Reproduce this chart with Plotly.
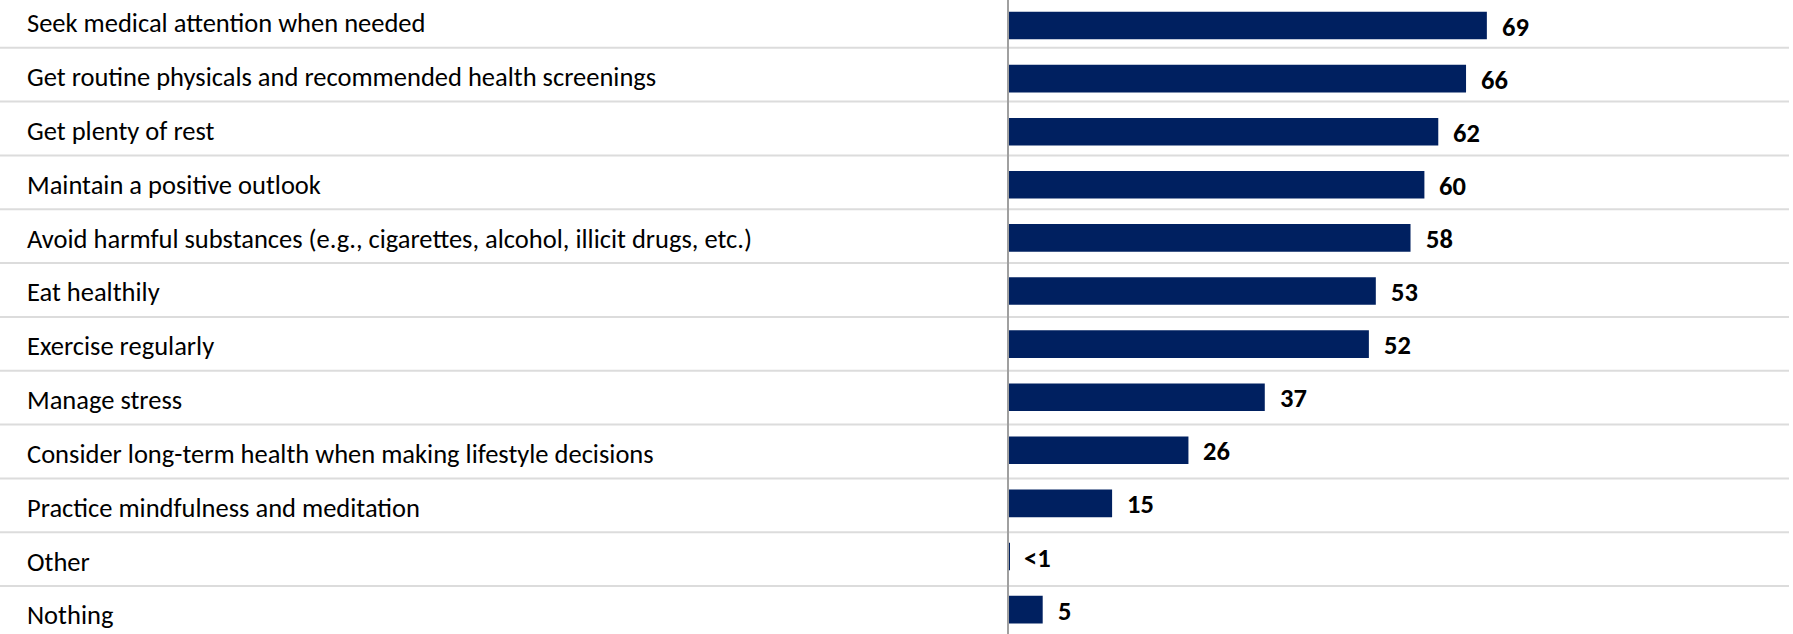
import plotly.graph_objects as go

# Survey responses, top to bottom
categories = [
    "Seek medical attention when needed",
    "Get routine physicals and recommended health screenings",
    "Get plenty of rest",
    "Maintain a positive outlook",
    "Avoid harmful substances (e.g., cigarettes, alcohol, illicit drugs, etc.)",
    "Eat healthily",
    "Exercise regularly",
    "Manage stress",
    "Consider long-term health when making lifestyle decisions",
    "Practice mindfulness and meditation",
    "Other",
    "Nothing",
]
values = [69, 66, 62, 60, 58, 53, 52, 37, 26, 15, 0.2, 5]
value_labels = ["69", "66", "62", "60", "58", "53", "52", "37", "26", "15", "<1", "5"]

W, H = 1793, 634
BAR_COLOR = "#002060"
LABEL_FONT = "Calibri, Carlito, 'Open Sans', sans-serif"
FONT_SIZE = 26.5

fig = go.Figure()
fig.add_trace(go.Bar(
    x=values,
    y=list(range(len(categories))),
    orientation="h",
    width=0.52,
    marker=dict(color=BAR_COLOR, line=dict(width=0)),
    hoverinfo="skip",
))

annotations = []
# category labels, left aligned in table rows
for i, name in enumerate(categories):
    annotations.append(dict(
        x=25 / W, xref="paper", xanchor="left",
        y=i, yref="y2", yanchor="middle",
        text=name, showarrow=False,
        font=dict(family=LABEL_FONT, size=FONT_SIZE, color="#000000"),
    ))
# value labels to the right of each bar
for i, (v, lab) in enumerate(zip(values, value_labels)):
    annotations.append(dict(
        x=v, xref="x", xanchor="left", xshift=13,
        y=i, yref="y", yanchor="middle", yshift=-1,
        text="<b>%s</b>" % lab.replace("<", "&lt;"), showarrow=False,
        font=dict(family=LABEL_FONT, size=FONT_SIZE, color="#000000"),
    ))

shapes = []
# row separators of the label table
row_rule_offset = 0.455
for k in range(len(categories) - 1):
    shapes.append(dict(
        type="line", xref="paper", yref="y2",
        x0=0, x1=1789 / W, y0=k + row_rule_offset, y1=k + row_rule_offset,
        line=dict(color="#dcdcdc", width=2), layer="below",
    ))
# vertical baseline at zero
shapes.append(dict(
    type="line", xref="x", yref="paper",
    x0=0, x1=0, y0=0, y1=1,
    line=dict(color="#a0a0a0", width=2), layer="above",
))

px_per_unit = 6.94
zero_px = 1008
fig.update_layout(
    width=W, height=H,
    margin=dict(l=0, r=0, t=0, b=0),
    paper_bgcolor="white", plot_bgcolor="white",
    showlegend=False,
    xaxis=dict(range=[-zero_px / px_per_unit, (W - zero_px) / px_per_unit],
               visible=False, fixedrange=True),
    yaxis=dict(range=[(H - 25.5) / 53.1, -25.5 / 53.1],
               visible=False, fixedrange=True),
    yaxis2=dict(range=[(H - 23.3) / 53.83, -23.3 / 53.83],
                overlaying="y", visible=False, fixedrange=True),
    annotations=annotations,
    shapes=shapes,
)

fig.write_html("out.html")
